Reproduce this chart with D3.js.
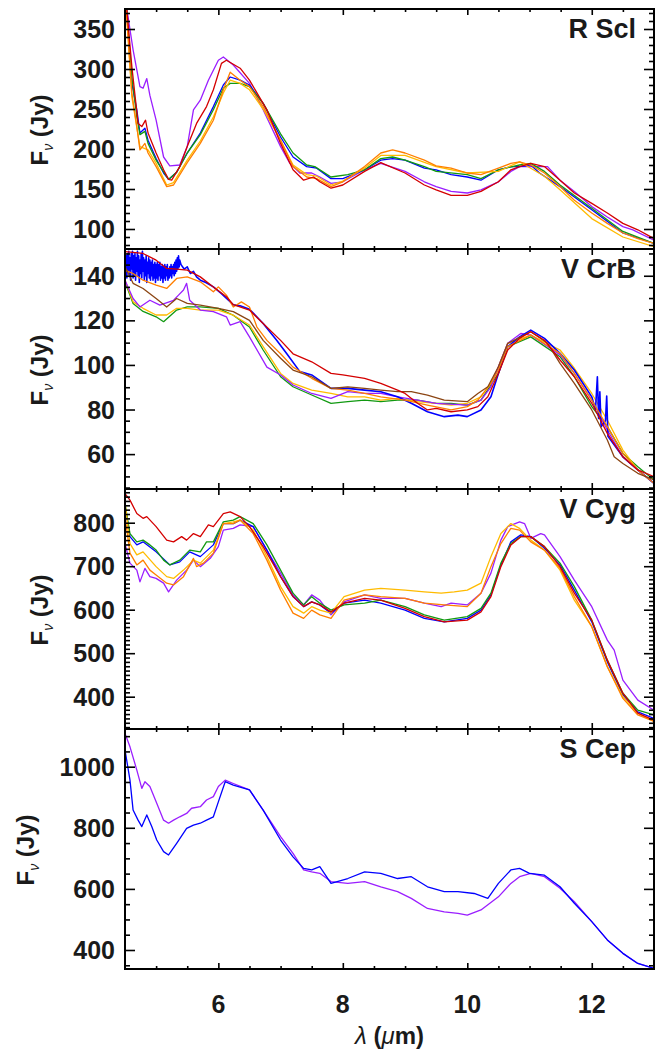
<!DOCTYPE html>
<html>
<head>
<meta charset="utf-8">
<script src="https://cdn.jsdelivr.net/npm/d3@7"></script>
<style>
  body { margin: 0; background: #fff; }
  text { font-family: "Liberation Sans", Arial, Helvetica, sans-serif; fill: #1a1a1a; }
</style>
</head>
<body>
<svg id="chart" width="662" height="1057"></svg>
<script>
// ---------- wavelength axis ----------
const xDomain = [4.5, 13];
const xMajorTicks = [6, 8, 10, 12];
const xMinorTicks = [5, 5.5, 6.5, 7, 7.5, 8.5, 9, 9.5, 10.5, 11, 11.5, 12.5];

// ---------- R Scl spectra [lambda (um), F_nu (Jy)] ----------
const rsclPurple = [[4.50,400],[4.53,375],[4.63,324],[4.74,278],[4.79,276],[4.85,288],[4.90,267],[5.00,236],[5.12,190],[5.22,179],[5.38,180],[5.50,203],[5.60,249],[5.71,261],[5.84,286],[6.00,311],[6.08,315],[6.24,305],[6.50,282],[6.72,249],[7.00,203],[7.15,182],[7.31,170],[7.50,170],[7.63,165],[7.81,157],[8.00,159],[8.35,174],[8.61,182],[9.00,172],[9.31,159],[9.50,153],[9.74,147],[10.00,145],[10.22,149],[10.50,159],[10.70,172],[10.84,178],[11.02,178],[11.29,178],[11.49,161],[11.72,147],[12.00,128],[12.25,115],[12.50,103],[12.66,99],[13.00,86]];
const rsclBlue = [[4.50,400],[4.61,282],[4.69,249],[4.74,220],[4.82,226],[4.87,211],[5.00,188],[5.12,170],[5.20,162],[5.33,171],[5.50,195],[5.71,220],[5.92,253],[6.08,280],[6.19,290],[6.35,286],[6.50,280],[6.72,257],[7.00,215],[7.20,190],[7.42,178],[7.58,176],[7.81,163],[8.00,163],[8.35,174],[8.61,186],[8.80,188],[9.00,186],[9.31,176],[9.50,174],[9.74,168],[10.00,165],[10.22,161],[10.50,174],[10.70,178],[10.84,178],[11.02,180],[11.16,170],[11.49,153],[12.00,124],[12.50,95],[13.00,82]];
const rsclGreen = [[4.50,400],[4.61,290],[4.69,240],[4.74,218],[4.82,222],[4.87,207],[5.00,186],[5.20,162],[5.33,171],[5.50,195],[5.71,218],[5.92,249],[6.08,276],[6.19,282],[6.35,282],[6.50,278],[6.72,257],[7.00,219],[7.20,195],[7.42,180],[7.55,178],[7.81,165],[8.08,168],[8.35,174],[8.61,188],[8.80,190],[9.00,186],[9.31,178],[9.50,172],[10.00,168],[10.22,163],[10.50,174],[10.84,180],[11.02,182],[11.24,172],[11.49,155],[12.00,126],[12.50,97],[13.00,82]];
const rsclGold = [[4.50,400],[4.61,265],[4.74,203],[4.87,199],[5.00,182],[5.17,155],[5.28,158],[5.50,186],[5.71,210],[5.92,240],[6.08,270],[6.19,286],[6.35,282],[6.50,274],[6.72,250],[7.00,211],[7.20,180],[7.42,168],[7.58,166],[7.81,155],[8.00,160],[8.35,176],[8.61,192],[9.00,192],[9.50,178],[10.00,170],[10.50,172],[10.84,184],[11.24,166],[11.49,149],[12.00,113],[12.50,90],[13.00,78]];
const rsclOrange = [[4.50,400],[4.61,270],[4.69,228],[4.74,199],[4.82,207],[4.87,195],[5.00,178],[5.17,153],[5.28,155],[5.50,183],[5.71,207],[5.92,236],[6.08,274],[6.19,296],[6.35,286],[6.50,278],[6.72,253],[7.00,211],[7.20,178],[7.42,165],[7.58,163],[7.81,153],[8.00,159],[8.35,178],[8.61,195],[8.80,199],[9.00,195],[9.31,186],[9.50,179],[9.74,176],[10.00,170],[10.22,168],[10.50,176],[10.70,182],[10.84,184],[11.02,180],[11.24,170],[11.49,153],[11.72,136],[12.00,120],[12.25,107],[12.50,95],[12.74,88],[13.00,82]];
const rsclRed = [[4.50,400],[4.61,303],[4.71,232],[4.77,228],[4.83,236],[4.87,220],[5.00,195],[5.12,174],[5.20,162],[5.25,161],[5.38,178],[5.50,203],[5.65,232],[5.81,253],[5.92,274],[6.05,307],[6.13,311],[6.35,301],[6.50,286],[6.78,249],[7.00,207],[7.20,174],[7.37,161],[7.53,165],[7.63,159],[7.81,151],[8.00,155],[8.35,172],[8.61,183],[9.00,170],[9.31,155],[9.50,149],[9.74,142],[10.00,142],[10.22,147],[10.50,159],[10.70,174],[10.84,178],[11.02,182],[11.24,178],[11.49,161],[11.72,145],[12.00,132],[12.25,120],[12.50,107],[12.74,99],[13.00,88]];

// ---------- V CrB spectra ----------
const vcrbPurple = [[4.50,138],[4.63,129.8],[4.74,126],[4.90,129],[5.06,126.8],[5.28,129],[5.36,131.3],[5.44,133.6],[5.49,136.6],[5.54,129],[5.71,124.6],[5.92,123.9],[6.13,121.6],[6.19,117.9],[6.35,119.4],[6.50,112.6],[6.78,99],[7.00,95.5],[7.20,91],[7.50,87.2],[7.81,85],[8.08,88],[8.35,87.2],[8.61,87.2],[8.88,85.7],[9.20,84.2],[9.50,82.8],[10.00,82],[10.22,84.2],[10.38,90.2],[10.50,99.2],[10.65,109.7],[10.86,114.1],[11.02,113.4],[11.49,104.5],[11.72,96.2],[12.00,84.2],[12.25,70.8],[12.50,58.8],[12.74,52.9],[13.00,46.9]];
// the short-wavelength end of this spectrum is very noisy
const vcrbBlue = [[4.50,151],[4.51,141],[4.52,149],[4.53,139],[4.54,150],[4.55,142],[4.56,151],[4.57,140],[4.58,148],[4.59,138],[4.60,150],[4.61,143],[4.62,151],[4.63,139],[4.64,149],[4.65,141],[4.66,150],[4.67,138],[4.68,148],[4.69,142],[4.70,151],[4.71,140],[4.72,149],[4.73,137],[4.74,147],[4.75,141],[4.76,150],[4.77,139],[4.78,151],[4.79,142],[4.80,148],[4.81,138],[4.82,147],[4.83,140],[4.84,149],[4.85,137],[4.86,146],[4.87,141],[4.88,148],[4.89,139],[4.90,147],[4.91,138],[4.92,146],[4.93,140],[4.94,147],[4.95,138],[4.96,145],[4.97,139],[4.98,146],[4.99,137],[5.00,145],[5.01,139],[5.02,146],[5.03,138],[5.04,145],[5.05,140],[5.06,146],[5.07,138],[5.08,144],[5.09,139],[5.10,145],[5.11,137],[5.12,144],[5.13,139],[5.14,145],[5.15,138],[5.16,144],[5.17,140],[5.18,145],[5.19,138],[5.20,143],[5.21,139],[5.22,144],[5.23,140],[5.24,145],[5.25,139],[5.26,144],[5.27,141],[5.28,145],[5.29,140],[5.30,146],[5.31,141],[5.32,147],[5.33,142],[5.34,148],[5.35,143],[5.36,149],[5.37,144],[5.38,147],[5.40,145],[5.45,143],[5.50,144],[5.55,141],[5.60,142],[5.65,139.5],[5.71,138],[5.80,137],[5.92,135],[6.05,132],[6.24,127],[6.35,126.5],[6.50,125],[6.72,118.6],[6.94,111],[7.10,105],[7.31,97],[7.50,95.5],[7.81,89.5],[8.08,89.5],[8.35,88.7],[8.61,88],[8.88,85.7],[9.10,82.8],[9.36,79],[9.63,76.8],[9.85,77.5],[10.00,76.8],[10.22,79.8],[10.38,85.7],[10.50,96.2],[10.65,108.2],[10.84,112.6],[11.02,115.6],[11.24,111.9],[11.49,105.2],[11.72,97.7],[12.00,85.7],[12.06,80],[12.09,94.7],[12.11,76],[12.13,88],[12.15,72.3],[12.22,75],[12.24,86],[12.26,68],[12.50,58.8],[12.74,52.9],[13.00,46.9]];
const vcrbGreen = [[4.50,137.3],[4.63,127.6],[4.79,124],[5.00,121.6],[5.12,119.4],[5.33,124.6],[5.50,126],[5.71,126],[6.00,125.4],[6.24,122.3],[6.50,117],[6.72,106.7],[7.00,94.7],[7.20,90.2],[7.50,86.5],[7.81,82.8],[8.08,83.5],[8.35,84.2],[8.61,83.5],[8.88,84.2],[9.20,84.2],[9.50,82.8],[9.74,82.8],[10.00,82],[10.22,84.2],[10.50,96.2],[10.65,108.2],[11.02,112.6],[11.49,103.7],[11.72,94.7],[12.00,81.3],[12.25,72.3],[12.50,60.3],[12.74,54.3],[13.00,48.4]];
const vcrbGold = [[4.50,138],[4.63,128.3],[4.79,125.4],[5.00,122.4],[5.17,122.4],[5.33,125.4],[5.50,125.4],[5.71,124.6],[6.00,124.6],[6.24,122.3],[6.50,117.9],[6.72,108.2],[7.00,96.2],[7.20,91.7],[7.50,88.7],[7.81,87.2],[8.08,85.7],[8.35,85.7],[8.61,84.2],[8.88,85],[9.20,83.5],[9.50,82.8],[9.74,82],[10.00,82.8],[10.22,85.7],[10.38,91.7],[10.50,99.2],[10.65,109.7],[11.02,113.4],[11.49,106.7],[11.72,98.5],[12.00,87.2],[12.25,75.3],[12.50,61.8],[12.74,52.9],[13.00,46.9]];
const vcrbOrange = [[4.50,142.5],[4.63,141],[4.79,138],[5.00,135.8],[5.17,134.3],[5.33,138.8],[5.50,139.5],[5.71,137.3],[5.92,132.8],[6.00,135],[6.13,131.3],[6.24,126],[6.37,128.3],[6.50,126],[6.62,117],[6.78,111],[7.00,105],[7.20,99],[7.50,94],[7.81,89.5],[8.08,88.7],[8.35,87.2],[8.61,85.7],[9.00,84.2],[9.36,82],[9.74,79.8],[10.00,81.3],[10.17,84.2],[10.38,91.7],[10.50,97.7],[10.65,108.2],[11.02,113.4],[11.49,105.2],[11.72,96.2],[12.00,84.2],[12.25,72.3],[12.50,60.3],[12.74,52.9],[13.00,46.9]];
const vcrbBrown = [[4.50,144],[4.63,136.6],[4.79,134.3],[5.00,129.8],[5.17,126],[5.33,129.8],[5.50,127.6],[5.71,126.8],[6.00,125.4],[6.24,123.9],[6.50,120],[6.72,111],[7.00,103],[7.20,97.7],[7.50,94.7],[7.81,89.5],[8.08,90.2],[8.35,89.5],[8.61,88.7],[8.88,88],[9.10,88],[9.36,86.5],[9.63,84.2],[10.00,83.5],[10.17,87.2],[10.33,90.2],[10.50,99.2],[10.65,109.7],[11.02,114.9],[11.29,109.7],[11.49,100.7],[11.72,91.7],[12.00,79.8],[12.25,66.3],[12.36,58.8],[12.50,55.8],[12.74,51.4],[13.00,48.4]];
const vcrbRed = [[4.50,150.8],[4.79,150],[5.00,147],[5.17,143.3],[5.33,143],[5.50,142.5],[5.71,139.5],[5.92,135],[6.13,130.6],[6.24,127],[6.50,124.6],[6.72,118.6],[7.00,111],[7.20,105],[7.50,101.4],[7.81,96.2],[8.00,95.5],[8.35,94],[8.61,91.7],[8.88,88.7],[9.00,87.2],[9.20,82.8],[9.36,79.8],[9.50,80.5],[9.74,79],[10.00,79.8],[10.17,81.3],[10.33,85.7],[10.50,96.2],[10.65,106.7],[10.84,111.9],[11.02,114.9],[11.24,111.1],[11.49,102.2],[11.72,94.7],[12.00,82.8],[12.25,69.3],[12.50,58.8],[12.74,52.9],[13.00,49.9]];

// ---------- V Cyg spectra ----------
const vcygPurple = [[4.50,752],[4.58,707],[4.69,691],[4.74,664],[4.82,695],[4.90,676],[5.00,672],[5.12,661],[5.20,641],[5.33,668],[5.49,691],[5.60,714],[5.71,699],[5.87,718],[6.00,745],[6.08,783],[6.24,787],[6.35,795],[6.56,791],[6.78,737],[7.00,684],[7.20,634],[7.37,611],[7.50,634],[7.63,622],[7.81,588],[8.02,618],[8.35,634],[8.61,626],[9.00,626],[9.31,615],[9.58,607],[9.74,615],[10.00,611],[10.22,638],[10.38,684],[10.54,760],[10.65,791],[10.84,802],[10.92,798],[11.02,764],[11.18,775],[11.24,772],[11.49,722],[11.72,668],[12.00,607],[12.25,530],[12.36,507],[12.50,438],[12.74,392],[13.00,369]];
const vcygBlue = [[4.50,837],[4.58,768],[4.69,749],[4.79,756],[5.00,733],[5.22,703],[5.38,710],[5.54,733],[5.71,722],[5.92,749],[6.08,798],[6.24,798],[6.35,806],[6.56,791],[6.78,737],[7.00,676],[7.20,630],[7.37,607],[7.50,618],[7.63,611],[7.81,592],[8.02,615],[8.35,622],[8.61,615],[9.00,599],[9.31,580],[9.63,572],[10.00,580],[10.22,599],[10.38,634],[10.54,703],[10.70,756],[10.86,772],[11.02,768],[11.24,741],[11.49,703],[11.72,645],[12.00,572],[12.25,480],[12.50,404],[12.74,365],[13.00,350]];
const vcygGreen = [[4.50,844],[4.58,775],[4.69,756],[4.79,760],[4.90,749],[5.00,737],[5.12,714],[5.22,703],[5.38,714],[5.54,737],[5.71,733],[5.81,756],[5.92,756],[6.08,802],[6.24,806],[6.35,814],[6.56,798],[6.78,749],[7.00,691],[7.20,638],[7.37,611],[7.50,630],[7.63,615],[7.81,599],[8.02,611],[8.35,615],[8.61,622],[9.00,607],[9.31,588],[9.63,576],[10.00,584],[10.22,603],[10.38,638],[10.54,707],[10.70,752],[10.86,768],[11.02,768],[11.24,745],[11.49,707],[11.72,653],[12.00,576],[12.25,484],[12.50,408],[12.74,369],[13.00,358]];
const vcygGold = [[4.50,848],[4.58,752],[4.69,726],[4.79,733],[5.00,699],[5.17,676],[5.28,672],[5.44,691],[5.60,714],[5.71,707],[5.92,737],[6.08,798],[6.24,802],[6.35,806],[6.56,783],[6.78,722],[7.00,653],[7.20,607],[7.37,592],[7.50,607],[7.63,599],[7.81,592],[8.02,630],[8.35,645],[8.61,649],[9.00,645],[9.31,641],[9.58,638],[9.79,641],[10.00,645],[10.22,661],[10.38,722],[10.54,775],[10.70,798],[10.84,787],[11.02,760],[11.24,737],[11.49,691],[11.72,622],[12.00,561],[12.25,469],[12.50,400],[12.74,362],[13.00,343]];
const vcygOrange = [[4.50,814],[4.58,730],[4.69,703],[4.79,714],[4.90,691],[5.00,680],[5.17,661],[5.28,657],[5.44,676],[5.60,718],[5.65,699],[5.76,707],[5.92,730],[6.08,798],[6.24,798],[6.35,806],[6.56,775],[6.78,714],[7.00,645],[7.20,592],[7.37,580],[7.50,599],[7.63,588],[7.81,580],[8.02,622],[8.35,634],[8.61,630],[9.00,626],[9.31,615],[9.63,611],[10.00,607],[10.22,638],[10.38,699],[10.54,752],[10.70,787],[10.84,783],[11.02,756],[11.24,737],[11.49,695],[11.72,630],[12.00,561],[12.25,469],[12.50,396],[12.74,358],[13.00,343]];
const vcygRed = [[4.50,867],[4.58,852],[4.69,821],[4.79,810],[4.85,814],[5.00,791],[5.17,760],[5.28,756],[5.41,768],[5.49,760],[5.60,775],[5.71,768],[5.84,795],[5.92,791],[6.08,821],[6.19,825],[6.35,814],[6.50,791],[6.72,745],[7.00,676],[7.20,630],[7.37,607],[7.50,618],[7.63,611],[7.81,595],[8.02,615],[8.35,626],[8.61,622],[9.00,603],[9.31,584],[9.63,572],[10.00,576],[10.22,595],[10.38,630],[10.54,699],[10.70,749],[10.86,768],[11.02,768],[11.24,745],[11.49,699],[11.72,638],[12.00,576],[12.25,484],[12.50,408],[12.74,362],[13.00,346]];

// ---------- S Cep spectra ----------
const scepPurple = [[4.50,1109],[4.58,1065],[4.69,989],[4.77,929],[4.82,951],[4.90,935],[5.01,880],[5.12,825],[5.20,815],[5.28,825],[5.38,836],[5.49,847],[5.57,864],[5.71,869],[5.81,891],[5.92,902],[6.00,935],[6.11,956],[6.24,945],[6.50,924],[6.72,858],[7.00,771],[7.20,716],[7.37,662],[7.50,656],[7.63,651],[7.81,624],[8.08,618],[8.35,624],[8.61,607],[8.88,591],[9.10,569],[9.36,536],[9.63,525],[9.85,520],[10.00,514],[10.22,531],[10.50,574],[10.70,618],[10.84,640],[11.02,651],[11.24,640],[11.49,602],[11.72,558],[12.00,493],[12.25,433],[12.50,389],[12.74,356],[13.00,340]];
const scepBlue = [[4.50,1055],[4.58,956],[4.63,858],[4.71,825],[4.77,804],[4.85,842],[4.93,804],[5.01,760],[5.12,722],[5.20,711],[5.33,749],[5.49,798],[5.60,809],[5.71,815],[5.81,825],[5.92,836],[6.00,885],[6.11,951],[6.24,940],[6.50,924],[6.72,858],[7.00,760],[7.20,705],[7.37,667],[7.50,662],[7.63,673],[7.81,618],[8.08,634],[8.35,656],[8.61,651],[8.88,634],[9.10,640],[9.36,607],[9.63,591],[9.85,591],[10.11,585],[10.33,569],[10.50,618],[10.70,662],[10.84,667],[11.00,651],[11.24,645],[11.49,607],[11.72,553],[12.00,493],[12.25,433],[12.50,389],[12.74,356],[13.00,340]];

// ---------- y-axis ticks per panel ----------
const rsclTicks = [100, 150, 200, 250, 300, 350];
const vcrbTicks = [60, 80, 100, 120, 140];
const vcygTicks = [400, 500, 600, 700, 800];
const scepTicks = [400, 600, 800, 1000];

const names = ["R Scl", "V CrB", "V Cyg", "S Cep"];

// ---------- colours ----------
const C = {
  purple: "#9a1eff", blue: "#0000ff", green: "#119911", gold: "#ffbb00",
  orange: "#ff7f00", brown: "#8b4513", red: "#d40000"
};

const panels = [
  { name: names[0], domain: [75, 375], ticks: rsclTicks, minor: 10, titleX: 48,
    series: [[rsclPurple, C.purple], [rsclBlue, C.blue], [rsclGreen, C.green], [rsclGold, C.gold], [rsclOrange, C.orange], [rsclRed, C.red]] },
  { name: names[1], domain: [44.35, 152.0], ticks: vcrbTicks, minor: 5, titleX: 48,
    series: [[vcrbGreen, C.green], [vcrbGold, C.gold], [vcrbPurple, C.purple], [vcrbBlue, C.blue, 1.6], [vcrbOrange, C.orange], [vcrbBrown, C.brown], [vcrbRed, C.red]] },
  { name: names[2], domain: [325.7, 877.5], ticks: vcygTicks, minor: 10, titleX: 48,
    series: [[vcygPurple, C.purple], [vcygBlue, C.blue], [vcygGreen, C.green], [vcygGold, C.gold], [vcygOrange, C.orange], [vcygRed, C.red]] },
  { name: names[3], domain: [337.8, 1123.4], ticks: scepTicks, minor: 50, titleX: 34,
    series: [[scepPurple, C.purple], [scepBlue, C.blue]] }
];

// ---------- layout ----------
const plotLeft = 125, plotRight = 654, plotTop = 9, panelH = 240;
const svg = d3.select("#chart");
const x = d3.scaleLinear().domain(xDomain).range([plotLeft, plotRight]);

panels.forEach((p, i) => {
  const top = plotTop + i * panelH, bottom = top + panelH;
  const y = d3.scaleLinear().domain(p.domain).range([bottom, top]);
  const g = svg.append("g");

  const clipId = "clip" + i;
  svg.append("clipPath").attr("id", clipId)
    .append("rect").attr("x", plotLeft).attr("y", top)
    .attr("width", plotRight - plotLeft).attr("height", panelH);

  // spectra
  const line = d3.line().x(d => x(d[0])).y(d => y(d[1]));
  const lines = g.append("g").attr("clip-path", `url(#${clipId})`);
  p.series.forEach(([data, col, w]) => {
    lines.append("path").datum(data)
      .attr("d", line).attr("fill", "none")
      .attr("stroke", col).attr("stroke-width", w || 1.3)
      .attr("stroke-linejoin", "round");
  });

  // y ticks (inward, both sides)
  const minorVals = d3.range(Math.ceil(p.domain[0] / p.minor) * p.minor, p.domain[1], p.minor)
    .filter(v => !p.ticks.includes(v));
  const tickG = g.append("g");
  const yAxisL = d3.axisRight(y).tickValues(p.ticks).tickSize(10).tickFormat("");
  const yAxisLm = d3.axisRight(y).tickValues(minorVals).tickSize(5).tickFormat("");
  const yAxisR = d3.axisLeft(y).tickValues(p.ticks).tickSize(10).tickFormat("");
  const yAxisRm = d3.axisLeft(y).tickValues(minorVals).tickSize(5).tickFormat("");
  [[yAxisL, plotLeft], [yAxisLm, plotLeft], [yAxisR, plotRight], [yAxisRm, plotRight]].forEach(([ax, px]) => {
    const a = tickG.append("g").attr("transform", `translate(${px},0)`).call(ax);
    a.select(".domain").remove();
    a.selectAll("line").attr("stroke", "#000").attr("stroke-width", 1.6);
  });

  // x ticks (inward at top and bottom)
  const xAxisB = d3.axisTop(x).tickValues(xMajorTicks).tickSize(6).tickFormat("");
  const xAxisBm = d3.axisTop(x).tickValues(xMinorTicks).tickSize(3).tickFormat("");
  const xAxisT = d3.axisBottom(x).tickValues(xMajorTicks).tickSize(6).tickFormat("");
  const xAxisTm = d3.axisBottom(x).tickValues(xMinorTicks).tickSize(3).tickFormat("");
  [[xAxisB, bottom], [xAxisBm, bottom], [xAxisT, top], [xAxisTm, top]].forEach(([ax, py]) => {
    const a = tickG.append("g").attr("transform", `translate(0,${py})`).call(ax);
    a.select(".domain").remove();
    a.selectAll("line").attr("stroke", "#000").attr("stroke-width", 1.6);
  });

  // frame
  g.append("rect").attr("x", plotLeft).attr("y", top)
    .attr("width", plotRight - plotLeft).attr("height", panelH)
    .attr("fill", "none").attr("stroke", "#000").attr("stroke-width", 2);

  // y tick labels
  g.append("g").selectAll("text").data(p.ticks).join("text")
    .attr("x", plotLeft - 10).attr("y", d => y(d) + 9)
    .attr("text-anchor", "end").attr("font-size", 25).attr("font-weight", "bold")
    .text(d => d);

  // y title: F_nu (Jy)
  const cy = top + panelH / 2 + 1;
  const t = g.append("text")
    .attr("transform", `translate(${p.titleX},${cy}) rotate(-90)`)
    .attr("text-anchor", "middle").attr("font-size", 24).attr("font-weight", "bold");
  t.append("tspan").text("F");
  t.append("tspan").attr("font-size", 14).attr("font-weight", "normal")
    .attr("font-style", "italic").attr("dy", 5).text("\u03BD");
  t.append("tspan").attr("dy", -5).text(" (Jy)");

  // star name
  g.append("text").attr("x", 636).attr("y", top + 29)
    .attr("text-anchor", "end").attr("font-size", 27).attr("font-weight", "bold")
    .text(p.name);

  // x tick labels on the last panel
  if (i === panels.length - 1) {
    g.append("g").selectAll("text").data(xMajorTicks).join("text")
      .attr("x", d => x(d)).attr("y", bottom + 44)
      .attr("text-anchor", "middle").attr("font-size", 25).attr("font-weight", "bold")
      .text(d => d);
  }
});

// x title: lambda (um)
const xt = svg.append("text").attr("x", (plotLeft + plotRight) / 2).attr("y", 1044)
  .attr("text-anchor", "middle").attr("font-size", 24).attr("font-weight", "bold");
xt.append("tspan").attr("font-style", "italic").attr("font-weight", "normal").text("\u03BB");
xt.append("tspan").text(" (");
xt.append("tspan").attr("font-style", "italic").attr("font-weight", "normal").text("\u03BC");
xt.append("tspan").text("m)");
</script>
</body>
</html>
